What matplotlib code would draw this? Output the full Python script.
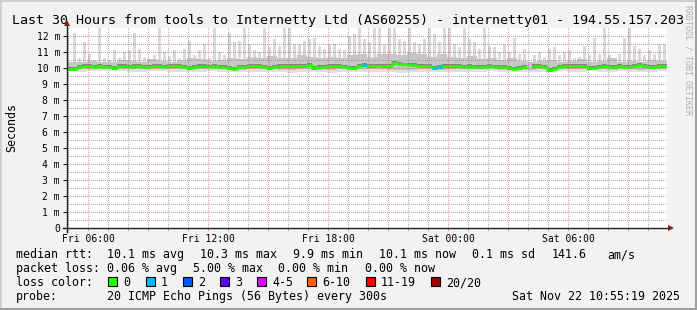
import numpy as np
import matplotlib
matplotlib.use("Agg")
import matplotlib.pyplot as plt
from matplotlib.patches import Rectangle

# ---------------- data ----------------
TITLE = "Last 30 Hours from tools to Internetty Ltd (AS60255) - internetty01 - 194.55.157.203"
T0 = 4.95          # hours after Fri 00:00 at left edge
STEP = 0.25        # hours per bin (120 bins = 30 h)

MEDIAN = [9.92, 9.92, 10.05, 10.15, 10.12, 10.08, 10.10, 10.08, 10.05, 9.98,
          10.15, 10.10, 10.08, 10.10, 10.10, 10.05, 10.08, 10.10, 10.10, 10.08,
          10.10, 10.12, 10.10, 10.08, 10.00, 10.05, 10.10, 10.10, 10.08, 10.10,
          10.05, 10.08, 10.00, 9.95, 10.05, 10.08, 10.10, 10.12, 10.10, 10.08,
          10.00, 10.05, 10.10, 10.12, 10.10, 10.10, 10.12, 10.10, 10.20, 10.00,
          10.05, 10.08, 10.10, 10.12, 10.10, 10.08, 10.02, 10.00, 10.15, 10.18,
          10.12, 10.10, 10.15, 10.10, 10.12, 10.30, 10.28, 10.22, 10.20, 10.18,
          10.15, 10.12, 10.10, 10.02, 10.05, 10.12, 10.10, 10.12, 10.10, 10.08,
          10.10, 10.05, 10.05, 10.08, 10.10, 10.08, 10.05, 10.05, 10.00, 9.95,
          9.98, 10.05, np.nan, 10.10, 10.10, 10.08, 9.88, 9.95, 10.05, 10.10,
          10.10, 10.12, 10.10, 10.12, 10.00, 10.02, 10.08, 10.10, 10.08, 10.05,
          10.10, 10.08, 10.05, 10.15, 10.20, 10.10, 10.05, 10.08, 10.10, 10.12]

LOSS = [0, 0, 0, 0, 0, 0, 0, 0, 0, 0, 0, 0, 0, 0, 0, 0, 0, 0, 0, 0,
        0, 0, 0, 0, 0, 0, 0, 0, 0, 0, 0, 0, 0, 0, 0, 0, 0, 0, 0, 0,
        0, 0, 0, 0, 0, 0, 0, 0, 0, 0, 0, 0, 0, 0, 0, 0, 0, 0, 0, 1,
        0, 0, 0, 0, 0, 0, 0, 0, 0, 0, 0, 0, 0, 1, 1, 0, 0, 0, 0, 0,
        0, 0, 0, 0, 0, 0, 0, 0, 0, 0, 0, 0, 0, 0, 0, 0, 0, 0, 0, 0,
        0, 0, 0, 0, 0, 0, 0, 0, 0, 0, 0, 0, 0, 0, 0, 0, 0, 0, 0, 0]

SMOKE_MAX = [10.4, 12.2, 10.6, 11.6, 10.9, 10.5, 12.5, 10.6, 10.5, 11.1,
             10.6, 11.0, 11.1, 12.2, 11.2, 10.7, 10.5, 10.8, 12.5, 11.0,
             10.7, 11.1, 10.6, 11.2, 11.7, 10.8, 11.1, 11.5, 10.6, 12.5,
             11.0, 10.8, 12.2, 11.6, 11.7, 12.5, 11.5, 11.1, 11.0, 12.5,
             11.3, 11.8, 11.4, 12.5, 12.5, 11.5, 11.5, 11.7, 11.8, 11.9,
             11.4, 11.2, 11.5, 11.5, 11.2, 11.1, 12.0, 12.1, 12.5, 11.8,
             11.6, 12.5, 12.5, 11.5, 12.5, 12.5, 11.8, 11.7, 12.5, 11.6,
             11.5, 11.8, 12.5, 12.1, 11.6, 12.5, 12.5, 11.5, 11.3, 12.5,
             11.8, 11.6, 11.2, 12.5, 11.4, 11.3, 11.0, 11.5, 11.0, 11.9,
             10.9, 11.2, np.nan, 10.8, 11.0, 10.7, 11.2, 11.3, 10.8, 11.0,
             11.1, 10.6, 10.7, 11.4, 10.8, 11.9, 10.9, 12.5, 10.8, 10.6,
             10.9, 11.9, 12.5, 11.4, 11.2, 10.8, 11.1, 10.9, 11.5, 11.5]

# 60 bins (30 min each)
SMOKE_P90 = [10.35, 10.40, 10.45, 10.40, 10.40, 10.50, 10.45, 10.40, 10.55, 10.45,
             10.40, 10.50, 10.60, 10.55, 10.45, 10.50, 10.60, 10.55, 10.70, 10.60,
             10.75, 10.60, 10.65, 10.80, 10.70, 10.65, 10.70, 10.60, 10.80, 10.85,
             10.70, 10.90, 10.85, 10.80, 10.95, 10.85, 10.70, 10.90, 10.70, 10.60,
             10.75, 10.55, 10.60, 10.50, 10.60, 10.45, 10.40, 10.45, 10.50, 10.40,
             10.45, 10.55, 10.40, 10.45, 10.60, 10.40, 10.45, 10.40, 10.50, 10.45]
SMOKE_P10 = [9.90, 9.92, 9.94, 9.93, 9.92, 9.94, 9.93, 9.92, 9.94, 9.95,
             9.93, 9.92, 9.90, 9.93, 9.94, 9.92, 9.91, 9.90, 9.92, 9.94,
             9.92, 9.90, 9.88, 9.92, 9.93, 9.90, 9.89, 9.92, 9.90, 9.93,
             9.95, 9.92, 9.90, 9.89, 9.90, 9.92, 9.91, 9.90, 9.93, 9.92,
             9.94, 9.92, 9.93, 9.90, 9.89, 9.88, 9.90, 9.93, 9.90, 9.94,
             9.92, 9.91, 9.94, 9.92, 9.90, 9.94, 9.92, 9.90, 9.93, 9.94]
SMOKE_LO = [9.80, 9.78, 9.82, 9.80, 9.79, 9.80, 9.78, 9.76, 9.80, 9.82,
            9.78, 9.76, 9.74, 9.78, 9.80, 9.76, 9.74, 9.72, 9.75, 9.78,
            9.74, 9.72, 9.70, 9.74, 9.76, 9.72, 9.70, 9.74, 9.72, 9.76,
            9.78, 9.74, 9.72, 9.70, 9.72, 9.75, 9.74, 9.72, 9.76, 9.74,
            9.78, 9.76, 9.80, 9.76, 9.74, 9.72, 9.76, 9.78, 9.74, 9.80,
            9.78, 9.76, 9.80, 9.78, 9.76, 9.80, 9.78, 9.74, 9.78, 9.80]

X_TICKS = [6, 12, 18, 24, 30]
X_LABELS = ["Fri 06:00", "Fri 12:00", "Fri 18:00", "Sat 00:00", "Sat 06:00"]
Y_TICKS = list(range(13))
Y_LABELS = ["0"] + [f"{i} m" for i in range(1, 13)]

ROW_RTT = [("median rtt:", 16), ("10.1 ms avg", 107), ("10.3 ms max", 200), ("9.9 ms min", 293),
           ("10.1 ms now", 379), ("0.1 ms sd", 472), ("141.6", 552), ("am/s", 607)]
ROW_LOSS = [("packet loss:", 16), ("0.06 % avg", 107), ("5.00 % max", 193),
            ("0.00 % min", 278), ("0.00 % now", 365)]
LOSS_LABELS = ["0", "1", "2", "3", "4-5", "6-10", "11-19", "20/20"]
LOSS_COLORS = ["#26ff00", "#00b8ff", "#0059ff", "#5e00ff", "#dd00ff", "#ff5e00", "#ff0000", "#a10000"]
LOSS_BOX_X = [108, 146, 183, 220, 257, 307, 366, 431]
PROBE = "20 ICMP Echo Pings (56 Bytes) every 300s"
STAMP = "Sat Nov 22 10:55:19 2025"

# ---------------- figure ----------------
W, H = 697, 310
MONO = "DejaVu Sans Mono"
plt.rcParams["font.family"] = MONO
fig = plt.figure(figsize=(W / 100, H / 100), dpi=100)
fig.patch.set_facecolor("#f2f2f2")

ov = fig.add_axes([0, 0, 1, 1], zorder=0)
ov.set_xlim(0, W)
ov.set_ylim(H, 0)
ov.axis("off")
ov.add_patch(Rectangle((0, 0), W, 2, color="#cfcfcf", lw=0))
ov.add_patch(Rectangle((0, 0), 2, H, color="#cfcfcf", lw=0))
ov.add_patch(Rectangle((0, H - 2), W, 2, color="#9e9e9e", lw=0))
ov.add_patch(Rectangle((W - 2, 0), 2, H, color="#9e9e9e", lw=0))

ov.text(348, 24, TITLE, ha="center", va="baseline", fontsize=9.6, color="black")
ov.text(12, 128, "Seconds", rotation=90, ha="center", va="center", fontsize=8.4)
ov.text(688, 5, "RRDTOOL / TOBI OETIKER", rotation=-90, ha="center", va="top",
        fontsize=6, color="#b0b0b0")

FS = 8.4
for txt, x in ROW_RTT:
    ov.text(x, 258, txt, fontsize=FS, va="baseline", ha="left")
for txt, x in ROW_LOSS:
    ov.text(x, 272, txt, fontsize=FS, va="baseline", ha="left")
ov.text(16, 286, "loss color:", fontsize=FS, va="baseline", ha="left")
for lab, col, bx in zip(LOSS_LABELS, LOSS_COLORS, LOSS_BOX_X):
    ov.add_patch(Rectangle((bx, 277), 9, 9, facecolor=col, edgecolor="black", lw=0.8))
    ov.text(bx + 15, 286, lab, fontsize=FS, va="baseline", ha="left")
ov.text(16, 300, "probe:", fontsize=FS, va="baseline", ha="left")
ov.text(107, 300, PROBE, fontsize=FS, va="baseline", ha="left")
ov.text(680, 300, STAMP, fontsize=FS, va="baseline", ha="right")

# ---------------- main axes ----------------
PW, PH = 600, 200
ax = fig.add_axes([67 / W, 82 / H, PW / W, PH / H], zorder=1)
ax.set_facecolor("white")
for s in ax.spines.values():
    s.set_visible(False)
XMIN, XMAX, YMIN, YMAX = T0, T0 + 30, 0.0, 12.5

med = np.array(MEDIAN, dtype=float)
smax = np.array(SMOKE_MAX, dtype=float)
n = len(med)
left = T0 + STEP * np.arange(n)
n2 = len(SMOKE_P90)
step2 = 30.0 / n2
left2 = T0 + step2 * np.arange(n2)
lo = np.array(SMOKE_LO)
p10 = np.array(SMOKE_P10)
p90 = np.array(SMOKE_P90)

# smoke (thin streaks for the outliers, denser band around the median)
ax.bar(left + 0.2 * STEP, smax - med, bottom=med, width=0.6 * STEP, align="edge",
       color="#d9d9d9", lw=0, zorder=1)
ax.bar(left2, p90 - lo, bottom=lo, width=step2, align="edge", color="#e0e0e0", lw=0, zorder=1)
ax.bar(left2, p90 - p10, bottom=p10, width=step2, align="edge", color="#c6c6c6", lw=0, zorder=1.1)
ax.bar(left, np.full(n, 0.22), bottom=med - 0.10, width=STEP, align="edge",
       color="#848484", lw=0, zorder=1.2)

# dotted grid (1 px on / 1 px off) as a pixel-exact RGBA overlay, over the smoke like rrdtool
GRID = (0.56, 0.56, 0.56, 0.75)
MGRID = (0.87, 0.31, 0.31, 0.6)
grid_img = np.zeros((PH, PW, 4))
px_per_hour = PW / (XMAX - XMIN)
px_per_val = PH / (YMAX - YMIN)
for k in range(1, 26):                       # horizontal lines every 0.5
    v = k * 0.5
    if v >= YMAX:
        break
    r = int(round((YMAX - v) * px_per_val))
    grid_img[r, 0::2] = MGRID if k % 2 == 0 else GRID
for h in range(5, 35):                       # vertical lines every hour
    c = int(round((h - XMIN) * px_per_hour))
    if 0 <= c < PW:
        grid_img[0::2, c] = MGRID if h % 3 == 0 else GRID
ax.imshow(grid_img, extent=(XMIN, XMAX, YMIN, YMAX), origin="upper", aspect="auto",
          interpolation="nearest", zorder=2)
for h in range(5, 35):
    ax.plot([h, h], [0, -0.14], color=MGRID if h % 3 == 0 else GRID, lw=0.72,
            clip_on=False, zorder=2)

# median line coloured by loss
xs, ys = [], []
for i in range(n):
    xs += [left[i], left[i] + STEP]
    ys += [med[i], med[i]]
ax.plot(xs, ys, color=LOSS_COLORS[0], lw=1.8, solid_capstyle="butt", zorder=3)
for i in range(n):
    if LOSS[i] > 0:
        ax.plot([left[i], left[i] + STEP], [med[i], med[i]], color=LOSS_COLORS[LOSS[i]],
                lw=1.8, solid_capstyle="butt", zorder=3.1)

# axes lines and arrows
AXC = "#1f1f1f"
ARC = "#801f1f"
ax.plot([T0 - 0.2, T0 + 30.1], [0, 0], color=AXC, lw=1.0, clip_on=False, zorder=4)
ax.plot([T0, T0], [-0.25, 12.7], color=AXC, lw=1.0, clip_on=False, zorder=4)
ax.plot([T0], [12.8], marker="^", ms=4, color=ARC, clip_on=False, zorder=5, mew=0)
ax.plot([T0 + 30.2], [0], marker=">", ms=4, color=ARC, clip_on=False, zorder=5, mew=0)

ax.set_xlim(XMIN, XMAX)
ax.set_ylim(YMIN, YMAX)
ax.set_xticks(X_TICKS)
ax.set_xticklabels(X_LABELS)
ax.set_yticks(Y_TICKS)
ax.set_yticklabels(Y_LABELS)
ax.tick_params(axis="x", length=0, pad=4, labelsize=7)
ax.tick_params(axis="y", length=3, width=0.8, color=AXC, pad=2, labelsize=7)

fig.savefig("out.png", dpi=100, facecolor=fig.get_facecolor())
